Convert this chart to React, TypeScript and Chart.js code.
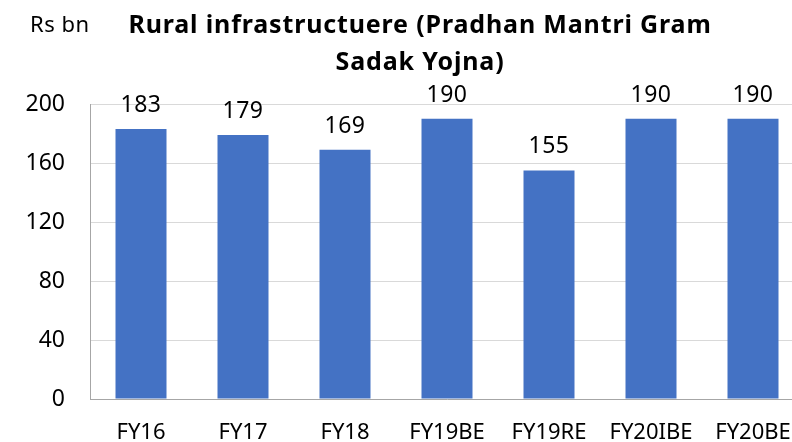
import React, { useEffect, useRef } from "react";
import { Chart, registerables } from "chart.js";

Chart.register(...registerables);

const categories = ["FY16", "FY17", "FY18", "FY19BE", "FY19RE", "FY20IBE", "FY20BE"];
const values = [183, 179, 169, 190, 155, 190, 190];
const yTicks = [0, 40, 80, 120, 160, 200];
const titleLines = ["Rural infrastructuere (Pradhan Mantri Gram", "Sadak Yojna)"];
const unitLabel = "Rs bn";

const FONT = "'Noto Sans', 'Open Sans', sans-serif";

export default function App() {
  const ref = useRef<HTMLCanvasElement | null>(null);

  useEffect(() => {
    const canvas = ref.current;
    if (!canvas) return;
    const textPlugin = {
      id: "texts",
      afterDatasetsDraw(chart: any) {
        const ctx = chart.ctx;
        ctx.save();
        ctx.fillStyle = "#000";
        ctx.textAlign = "center";
        ctx.textBaseline = "alphabetic";
        ctx.font = `bold 25px ${FONT}`;
        try { (ctx as any).letterSpacing = "0.85px"; } catch (e) {}
        ctx.fillText(titleLines[0], 420, 33);
        ctx.fillText(titleLines[1], 420, 70);
        try { (ctx as any).letterSpacing = "0.5px"; } catch (e) {}
        ctx.font = `22px ${FONT}`;
        ctx.textAlign = "left";
        ctx.fillText(unitLabel, 30, 32);
        ctx.textAlign = "center";
        ctx.font = `23px ${FONT}`;
        const meta = chart.getDatasetMeta(0);
        meta.data.forEach((bar: any, i: number) => {
          ctx.fillText(String(values[i]), bar.x, bar.y - 17);
        });
        ctx.restore();
      },
    };
    const chart = new Chart(canvas, {
      type: "bar",
      data: {
        labels: categories,
        datasets: [
          {
            data: values,
            backgroundColor: "#4472C4",
            categoryPercentage: 1,
            barPercentage: 0.5,
          },
        ],
      },
      options: {
        animation: false,
        responsive: false,
        maintainAspectRatio: false,
        layout: { padding: { top: 104, right: 0, left: 0, bottom: 0 } },
        plugins: {
          legend: { display: false },
          title: { display: false },
          tooltip: { enabled: false },
        },
        scales: {
          x: {
            grid: { display: false, drawTicks: false },
            border: { display: true, color: "#a6a6a6", width: 1 },
            ticks: {
              color: "#000",
              font: { family: FONT, size: 22 },
              padding: 21,
              maxRotation: 0,
              autoSkip: false,
            },
            afterFit(scale: any) {
              scale.height = 43;
              scale.paddingLeft = 0;
              scale.paddingRight = 0;
            },
          },
          y: {
            min: 0,
            max: 200,
            afterBuildTicks(scale: any) {
              scale.ticks = yTicks.map((v) => ({ value: v }));
            },
            grid: { color: "#d9d9d9", drawTicks: false },
            border: { display: true, color: "#a6a6a6", width: 1 },
            ticks: {
              color: "#000",
              font: { family: FONT, size: 23 },
              padding: 25,
            },
            afterFit(scale: any) {
              scale.width = 90;
              scale.paddingTop = 0;
              scale.paddingBottom = 0;
            },
          },
        },
      },
      plugins: [textPlugin],
    });
    return () => chart.destroy();
  }, []);

  return (
    <div
      style={{
        position: "fixed",
        left: 0,
        top: 0,
        width: 792,
        height: 442,
        overflow: "hidden",
        background: "#fff",
      }}
    >
      <canvas ref={ref} width={804} height={442} style={{ width: 804, height: 442, display: "block" }} />
    </div>
  );
}
